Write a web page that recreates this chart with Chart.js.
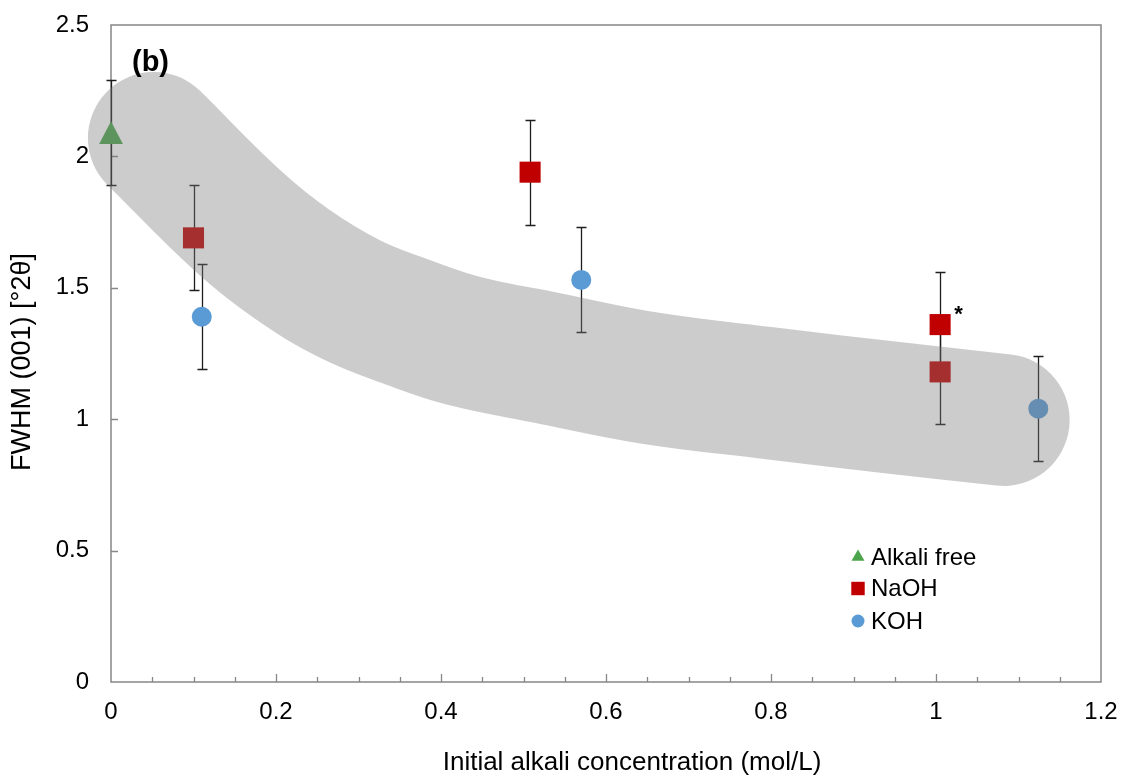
<!DOCTYPE html>
<html>
<head>
<meta charset="utf-8">
<script src="https://cdn.jsdelivr.net/npm/chart.js@4.4.1/dist/chart.umd.min.js"></script>
<style>
  html, body { margin: 0; padding: 0; background: #ffffff; }
  #wrap { width: 1121px; height: 776px; position: relative; }
</style>
</head>
<body>
<div id="wrap"><canvas id="c" width="1121" height="776"></canvas></div>
<script>
// ---- data ----
const seriesNames = ['Alkali free', 'NaOH', 'KOH'];

const alkaliFreeX = [0];
const alkaliFreeY = [2.09];
const alkaliFreeErr = [0.2];

const naohX = [0.10, 0.508, 1.005, 1.005];
const naohY = [1.69, 1.94, 1.36, 1.18];
const naohErr = [0.2, 0.2, 0.2, 0.2];
const naohNotes = ['', '', '*', ''];

const kohX = [0.11, 0.57, 1.124];
const kohY = [1.39, 1.53, 1.04];
const kohErr = [0.2, 0.2, 0.2];

// centre line of the shaded trend band
const bandX = [0.052, 0.154, 0.219, 0.290, 0.359, 0.428, 0.529, 0.652, 0.801, 0.947, 1.082];
const bandY = [2.070, 1.754, 1.591, 1.457, 1.370, 1.298, 1.233, 1.157, 1.098, 1.044, 0.997];

const xTickValues = [0, 0.2, 0.4, 0.6, 0.8, 1, 1.2];
const xTickLabels = ['0', '0.2', '0.4', '0.6', '0.8', '1', '1.2'];
const yTickValues = [0, 0.5, 1, 1.5, 2, 2.5];
const yTickLabels = ['0', '0.5', '1', '1.5', '2', '2.5'];

const panelLabel = '(b)';
const xTitle = 'Initial alkali concentration (mol/L)';
const yTitle = 'FWHM (001) [°2θ]';

// ---- styles ----
const FONT = "'Liberation Sans', Arial, Helvetica, sans-serif";
const GREEN = '#4CA54C';
const RED = '#C00000';
const BLUE = '#5B9BD5';
const AXIS = '#868686';

const pts = (xs, ys) => xs.map((x, i) => ({ x: x, y: ys[i] }));

Chart.defaults.font.family = FONT;
Chart.defaults.color = '#000';

// triangle marker whose bounding box is centred on the data point
function triangleSprite(w, h, color) {
  const c = document.createElement('canvas');
  c.width = w; c.height = h;
  const g = c.getContext('2d');
  g.fillStyle = color;
  g.beginPath();
  g.moveTo(w / 2, 0);
  g.lineTo(w, h);
  g.lineTo(0, h);
  g.closePath();
  g.fill();
  return c;
}

// axis frame and inward tick marks
const frameTicks = {
  id: 'frameTicks',
  beforeDatasetsDraw(chart) {
    const { ctx, chartArea: a, scales: { x, y } } = chart;
    ctx.save();
    ctx.strokeStyle = AXIS;
    ctx.lineWidth = 1.5;
    ctx.strokeRect(a.left, a.top, a.right - a.left, a.bottom - a.top);
    ctx.lineWidth = 1.3;
    ctx.beginPath();
    for (let k = 1; k < 24; k++) {
      const px = Math.round(x.getPixelForValue(k * 0.05)) + 0.5;
      const len = (k % 4 === 0) ? 8 : 5;
      ctx.moveTo(px, a.bottom);
      ctx.lineTo(px, a.bottom - len);
    }
    yTickValues.forEach(v => {
      if (v === 0 || v === 2.5) return;
      const py = Math.round(y.getPixelForValue(v)) + 0.5;
      ctx.moveTo(a.left, py);
      ctx.lineTo(a.left + 7, py);
    });
    ctx.stroke();
    ctx.restore();
  }
};

// vertical error bars with caps
const errorBars = {
  id: 'errorBars',
  beforeDatasetsDraw(chart) {
    const { ctx, scales: { x, y } } = chart;
    ctx.save();
    ctx.strokeStyle = '#1e1e1e';
    ctx.lineWidth = 1.3;
    chart.data.datasets.forEach(ds => {
      if (!ds.errors) return;
      ds.data.forEach((p, i) => {
        const px = Math.round(x.getPixelForValue(p.x)) + 0.5;
        const top = Math.round(y.getPixelForValue(p.y + ds.errors[i])) + 0.5;
        const bot = Math.round(y.getPixelForValue(p.y - ds.errors[i])) + 0.5;
        ctx.beginPath();
        ctx.moveTo(px, top); ctx.lineTo(px, bot);
        ctx.moveTo(px - 5, top); ctx.lineTo(px + 5, top);
        ctx.moveTo(px - 5, bot); ctx.lineTo(px + 5, bot);
        ctx.stroke();
      });
    });
    ctx.restore();
  }
};

// axis titles, point notes, panel label and legend
const overlay = {
  id: 'overlay',
  afterDraw(chart) {
    const { ctx, chartArea: a } = chart;
    ctx.save();
    ctx.fillStyle = '#000';
    // axis titles
    ctx.font = '26px ' + FONT;
    ctx.textAlign = 'center';
    ctx.textBaseline = 'middle';
    ctx.fillText(xTitle, a.left + 521, 763);
    ctx.save();
    ctx.translate(23, a.top + 337);
    ctx.rotate(-Math.PI / 2);
    ctx.font = '27px ' + FONT;
    ctx.fillText(yTitle, 0, 0);
    ctx.restore();
    // notes next to points
    chart.data.datasets.forEach((ds, di) => {
      if (!ds.notes) return;
      const meta = chart.getDatasetMeta(di);
      ds.notes.forEach((t, i) => {
        if (!t) return;
        const el = meta.data[i];
        ctx.font = 'bold 22px ' + FONT;
        ctx.fillStyle = '#000';
        ctx.textAlign = 'center';
        ctx.textBaseline = 'alphabetic';
        ctx.fillText(t, el.x + 18.5, el.y - 3.5);
      });
    });
    // panel label
    ctx.font = 'bold 29px ' + FONT;
    ctx.fillStyle = '#000';
    ctx.textAlign = 'left';
    ctx.textBaseline = 'alphabetic';
    ctx.fillText(panelLabel, a.left + 21, a.top + 46);
    // legend
    const items = [
      { style: 'triangle', r: 7.5, color: GREEN },
      { style: 'rect', r: 9.5, color: RED },
      { style: 'circle', r: 6.5, color: BLUE }
    ];
    const mx = a.left + 747;
    const rows = [a.top + 532, a.top + 563.5, a.top + 596];
    ctx.font = '24px ' + FONT;
    ctx.textBaseline = 'middle';
    items.forEach((it, i) => {
      ctx.fillStyle = it.color;
      Chart.helpers.drawPoint(ctx, { pointStyle: it.style, radius: it.r, rotation: 0, borderWidth: 0 }, mx, rows[i]);
      ctx.fillStyle = '#000';
      ctx.textAlign = 'left';
      ctx.fillText(seriesNames[i], mx + 13, rows[i] + 1);
    });
    ctx.restore();
  }
};

// keep the plot box fixed: no extra room for overhanging tick labels
function noPadding(s) {
  s.paddingLeft = 0; s.paddingRight = 0; s.paddingTop = 0; s.paddingBottom = 0;
}

const markerBase = { borderWidth: 0, pointBorderWidth: 0, clip: false, order: 1, showLine: false };

new Chart(document.getElementById('c'), {
  type: 'scatter',
  data: {
    datasets: [
      {
        type: 'line',
        label: 'band',
        data: pts(bandX, bandY),
        showLine: true,
        borderColor: 'rgba(121,121,121,0.38)',
        borderWidth: 132,
        borderCapStyle: 'round',
        borderJoinStyle: 'round',
        tension: 0.4,
        pointRadius: 0,
        fill: false,
        clip: false,
        order: 0
      },
      Object.assign({}, markerBase, {
        label: seriesNames[0],
        data: pts(alkaliFreeX, alkaliFreeY),
        errors: alkaliFreeErr,
        pointStyle: triangleSprite(24, 23, GREEN),
        pointRadius: 12,
        backgroundColor: GREEN,
        borderColor: GREEN
      }),
      Object.assign({}, markerBase, {
        label: seriesNames[1],
        data: pts(naohX, naohY),
        errors: naohErr,
        notes: naohNotes,
        pointStyle: 'rect',
        pointRadius: 14.9,
        backgroundColor: RED,
        borderColor: RED
      }),
      Object.assign({}, markerBase, {
        label: seriesNames[2],
        data: pts(kohX, kohY),
        errors: kohErr,
        pointStyle: 'circle',
        pointRadius: 10,
        backgroundColor: BLUE,
        borderColor: BLUE
      })
    ]
  },
  options: {
    responsive: false,
    animation: false,
    events: [],
    layout: { padding: { left: 0, top: 25, right: 20, bottom: 0 } },
    plugins: { legend: { display: false }, tooltip: { enabled: false } },
    scales: {
      x: {
        type: 'linear',
        position: 'bottom',
        min: 0,
        max: 1.2,
        afterBuildTicks(s) { s.ticks = xTickValues.map(v => ({ value: v })); },
        afterFit(s) { s.height = 94; noPadding(s); },
        grid: { display: false, drawTicks: false },
        border: { display: false },
        ticks: {
          padding: 16,
          maxRotation: 0,
          autoSkip: false,
          font: { size: 24 },
          color: '#000',
          callback: (v, i) => xTickLabels[i]
        },
        title: { display: false }
      },
      y: {
        type: 'linear',
        min: 0,
        max: 2.5,
        afterBuildTicks(s) { s.ticks = yTickValues.map(v => ({ value: v })); },
        afterFit(s) { s.width = 111; noPadding(s); },
        grid: { display: false, drawTicks: false },
        border: { display: false },
        ticks: {
          padding: 22,
          autoSkip: false,
          font: { size: 24 },
          color: '#000',
          callback: (v, i) => yTickLabels[i]
        },
        title: { display: false }
      }
    }
  },
  plugins: [frameTicks, errorBars, overlay]
});
</script>
</body>
</html>
